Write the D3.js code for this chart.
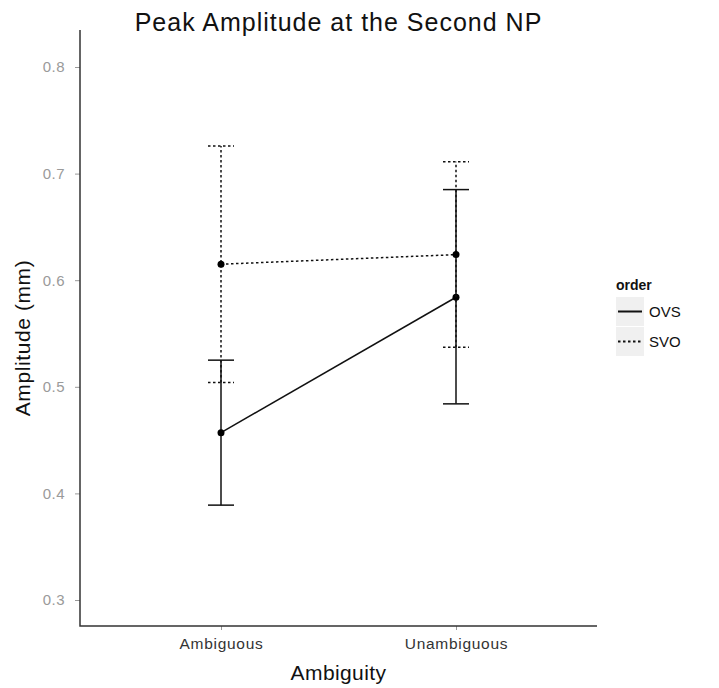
<!DOCTYPE html>
<html><head><meta charset="utf-8">
<script src="https://cdn.jsdelivr.net/npm/d3@7"></script>
<style>body{margin:0;background:#fff;} svg{display:block;font-family:"Liberation Sans",Arial,sans-serif;}</style>
</head><body><div id="chart"></div>
<script>
const categories = ["Ambiguous", "Unambiguous"];
const seriesNames = ["OVS", "SVO"];
const ovsMean = [0.457, 0.584];
const ovsLow  = [0.389, 0.484];
const ovsHigh = [0.525, 0.685];
const svoMean = [0.615, 0.624];
const svoLow  = [0.504, 0.537];
const svoHigh = [0.726, 0.711];
const yTicks = [0.3, 0.4, 0.5, 0.6, 0.7, 0.8];

(function () {
const W = 719, H = 688;
const pLeft = 80, pRight = 597, pTop = 30, pBottom = 626;
const svg = d3.select("#chart").append("svg").attr("width", W).attr("height", H);

const y = d3.scaleLinear().domain([0.3, 0.8]).range([600, 67]);
const x = d3.scalePoint().domain(categories).range([pLeft, pRight]).padding(0.6);

const series = [
  {name: seriesNames[0], mean: ovsMean, low: ovsLow, high: ovsHigh, dash: null},
  {name: seriesNames[1], mean: svoMean, low: svoLow, high: svoHigh, dash: "2.5,2.5"}
];

const yAxis = svg.append("g").attr("transform", `translate(${pLeft},0)`)
  .call(d3.axisLeft(y).tickValues(yTicks).tickFormat(d3.format(".1f")).tickSize(5).tickPadding(10));
yAxis.select(".domain").remove();
yAxis.selectAll(".tick line").attr("stroke", "#999");
yAxis.selectAll(".tick text").attr("fill", "#9a9a9a").style("font-size", "15px").style("letter-spacing", "0.5px");

const xAxis = svg.append("g").attr("transform", `translate(0,${pBottom})`)
  .call(d3.axisBottom(x).tickSize(4).tickPadding(6));
xAxis.select(".domain").remove();
xAxis.selectAll(".tick line").attr("stroke", "#999");
xAxis.selectAll(".tick text").attr("fill", "#333").style("font-size", "15.5px")
  .style("letter-spacing", "0.7px").attr("dy", "0.85em");

svg.append("path").attr("d", `M${pLeft},${pTop}V${pBottom}H${pRight}`)
  .attr("fill", "none").attr("stroke", "#333").attr("stroke-width", 1.5);

series.forEach(s => {
  const g = svg.append("g");
  const pts = categories.map((c, i) => ({c, m: s.mean[i], lo: s.low[i], hi: s.high[i]}));
  pts.forEach(p => {
    const cx = x(p.c);
    g.append("line").attr("x1", cx).attr("x2", cx).attr("y1", y(p.lo)).attr("y2", y(p.hi))
      .attr("stroke", "#111").attr("stroke-width", 1.5).attr("stroke-dasharray", s.dash);
    [p.lo, p.hi].forEach(v => {
      g.append("line").attr("x1", cx - 13).attr("x2", cx + 13).attr("y1", y(v)).attr("y2", y(v))
        .attr("stroke", "#111").attr("stroke-width", 1.5).attr("stroke-dasharray", s.dash);
    });
  });
  g.append("path").datum(pts)
    .attr("d", d3.line().x(p => x(p.c)).y(p => y(p.m)))
    .attr("fill", "none").attr("stroke", "#111").attr("stroke-width", 1.5).attr("stroke-dasharray", s.dash);
  g.selectAll("circle").data(pts).enter().append("circle")
    .attr("cx", p => x(p.c)).attr("cy", p => y(p.m)).attr("r", 3.5).attr("fill", "#000");
});

svg.append("text").attr("x", (pLeft + pRight) / 2).attr("y", 31).attr("text-anchor", "middle")
  .style("font-size", "25px").style("letter-spacing", "1px").attr("fill", "#111")
  .text("Peak Amplitude at the Second NP");
svg.append("text").attr("x", (pLeft + pRight) / 2).attr("y", 680).attr("text-anchor", "middle")
  .style("font-size", "21px").style("letter-spacing", "0.4px").attr("fill", "#111").text("Ambiguity");
svg.append("text").attr("transform", `translate(30,${(pTop + pBottom) / 2 + 10}) rotate(-90)`)
  .attr("text-anchor", "middle").style("font-size", "21px").style("letter-spacing", "0.6px")
  .attr("fill", "#111").text("Amplitude (mm)");

const lg = svg.append("g").attr("transform", "translate(616,0)");
lg.append("text").attr("x", 0).attr("y", 290).style("font-size", "14px").style("font-weight", "bold")
  .attr("fill", "#111").text("order");
series.forEach((s, i) => {
  const ty = 297 + i * 30;
  lg.append("rect").attr("x", 0).attr("y", ty).attr("width", 28).attr("height", 29).attr("fill", "#f0f0f0");
  lg.append("line").attr("x1", 2).attr("x2", 26).attr("y1", ty + 14.5).attr("y2", ty + 14.5)
    .attr("stroke", "#111").attr("stroke-width", 2).attr("stroke-dasharray", s.dash);
  lg.append("text").attr("x", 33).attr("y", ty + 20).style("font-size", "15px").attr("fill", "#111").text(s.name);
});
})();
</script></body></html>
